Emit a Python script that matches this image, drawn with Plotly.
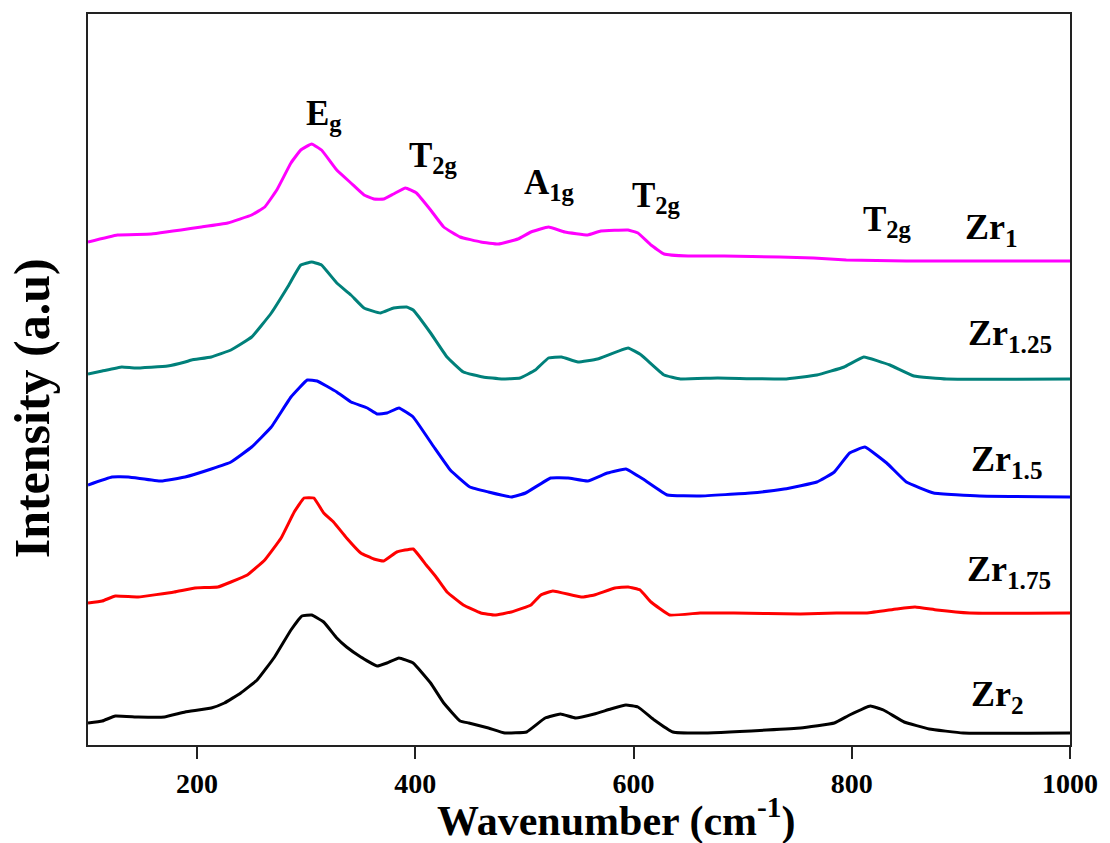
import plotly.graph_objects as go

# Raman spectra of the Zr-series samples, stacked vertically (arbitrary units)
wn_zr1 = [100, 127, 158, 204, 228, 250, 262, 273, 286, 295, 305, 314, 328, 341, 353, 362, 371, 380,
          391, 401, 414, 426, 441, 460, 476, 494, 506, 522, 537, 558, 570, 595, 604, 616, 628, 650,
          683, 734, 765, 795, 850, 900, 1000]
int_zr1 = [503, 510, 511, 518, 522, 530, 538, 555, 582, 595, 601, 595, 575, 562, 550, 546, 546, 551,
           557, 552, 535, 518, 508, 503, 501, 506, 513, 518, 513, 510, 514, 515, 512, 500, 491, 489,
           489, 488, 487, 485, 484, 484, 484]

wn_zr125 = [100, 113, 131, 143, 173, 189, 195, 213, 231, 250, 268, 283, 295, 305, 314, 328, 341, 353,
            368, 380, 392, 398, 414, 429, 444, 462, 479, 496, 510, 522, 534, 549, 567, 595, 607, 628,
            643, 677, 738, 768, 793, 811, 835, 857, 887, 1000]
int_zr125 = [371, 374, 378, 377, 379, 383, 385, 388, 395, 408, 432, 458, 480, 483, 480, 462, 450, 437,
             432, 437, 438, 435, 412, 388, 373, 368, 366, 367, 375, 387, 388, 383, 386, 397, 390, 370,
             366, 367, 366, 370, 378, 388, 380, 369, 366, 366]

wn_zr15 = [100, 122, 137, 167, 189, 213, 231, 250, 268, 286, 301, 310, 328, 341, 356, 365, 374, 385,
           398, 417, 432, 450, 467, 488, 501, 524, 540, 558, 576, 593, 610, 631, 661, 707, 738, 768,
           784, 798, 812, 832, 850, 875, 917, 1000]
int_zr15 = [260, 268, 268, 264, 268, 276, 283, 298, 318, 348, 365, 364, 353, 343, 337, 331, 332, 337,
            328, 298, 275, 258, 253, 248, 252, 267, 267, 264, 272, 276, 265, 250, 249, 252, 256, 263,
            273, 292, 298, 282, 263, 252, 249, 248]

wn_zr175 = [100, 113, 125, 146, 179, 198, 219, 231, 246, 262, 277, 289, 298, 307, 316, 325, 337, 350,
            362, 371, 383, 398, 410, 419, 429, 444, 460, 473, 488, 506, 515, 526, 552, 564, 583, 595,
            606, 616, 633, 661, 692, 753, 786, 814, 841, 858, 878, 908, 1000]
int_zr175 = [142, 144, 149, 148, 153, 157, 158, 163, 170, 185, 207, 233, 247, 247, 232, 223, 207, 192,
             186, 184, 193, 196, 180, 168, 153, 140, 132, 130, 133, 140, 150, 154, 148, 150, 157, 158,
             155, 143, 130, 132, 132, 131, 132, 132, 136, 138, 135, 132, 132]

wn_zr2 = [100, 113, 125, 146, 170, 189, 213, 225, 240, 255, 271, 286, 296, 305, 316, 328, 337, 350,
          365, 374, 385, 398, 414, 426, 441, 449, 467, 482, 502, 519, 533, 547, 564, 579, 593, 604,
          619, 636, 661, 722, 753, 784, 798, 817, 829, 848, 871, 902, 1000]
int_zr2 = [22, 24, 29, 28, 28, 33, 37, 42, 52, 65, 88, 115, 129, 130, 123, 107, 98, 88,
           79, 82, 87, 82, 62, 42, 24, 22, 17, 12, 13, 27, 31, 27, 31, 36, 40, 38,
           25, 13, 12, 15, 17, 22, 30, 39, 35, 23, 16, 12, 12]

series = [
    ("Zr<sub>1</sub>", wn_zr1, int_zr1, "#FF00FF"),
    ("Zr<sub>1.25</sub>", wn_zr125, int_zr125, "#00807A"),
    ("Zr<sub>1.5</sub>", wn_zr15, int_zr15, "#0000FF"),
    ("Zr<sub>1.75</sub>", wn_zr175, int_zr175, "#FF0000"),
    ("Zr<sub>2</sub>", wn_zr2, int_zr2, "#000000"),
]

# Band assignments: (label, wavenumber of left edge, intensity at top)
band_labels = ["E<sub>g</sub>", "T<sub>2g</sub>", "A<sub>1g</sub>", "T<sub>2g</sub>", "T<sub>2g</sub>"]
band_x = [298, 392, 498, 597, 808]
band_y = [653, 611, 584, 571, 547]

# Sample labels placed to the right of each spectrum
sample_x = [902, 905, 907, 904, 907]
sample_y = [540, 434, 308, 198, 73]

font_family = "Liberation Serif, Times New Roman, serif"

fig = go.Figure()
for name, x, y, color in series:
    fig.add_trace(go.Scatter(
        x=x, y=y, mode="lines", name=name,
        line=dict(color=color, width=3, shape="spline", smoothing=0.3),
        showlegend=False,
    ))

for text, x, y in zip(band_labels, band_x, band_y):
    fig.add_annotation(x=x, y=y, text=f"<b>{text}</b>", showarrow=False,
                       xanchor="left", yanchor="top",
                       font=dict(family=font_family, size=35, color="black"))

for (name, _, _, _), x, y in zip(series, sample_x, sample_y):
    fig.add_annotation(x=x, y=y, text=f"<b>{name}</b>", showarrow=False,
                       xanchor="left", yanchor="top",
                       font=dict(family=font_family, size=36, color="black"))

# Axis titles
fig.add_annotation(xref="paper", yref="paper", x=0.538, y=-0.1395,
                   text="<b>Wavenumber (cm<sup>-1</sup>)</b>", showarrow=False,
                   xanchor="center", yanchor="bottom",
                   font=dict(family=font_family, size=42, color="black"))
fig.add_annotation(xref="paper", yref="paper", x=-0.088, y=0.46,
                   text="<b>Intensity (a.u)</b>", showarrow=False, textangle=-90,
                   xanchor="left", yanchor="middle",
                   font=dict(family=font_family, size=50, color="black"))

fig.update_layout(
    width=1110, height=843,
    margin=dict(l=88, r=35, t=14, b=98),
    paper_bgcolor="white", plot_bgcolor="white",
    font=dict(family=font_family, color="black"),
    xaxis=dict(
        range=[100, 1000], tickvals=[200, 400, 600, 800, 1000],
        showgrid=False, zeroline=False,
        showline=True, linecolor="#222222", linewidth=2, mirror=True,
        ticks="outside", ticklen=12, tickwidth=2, tickcolor="#222222",
        tickfont=dict(family=font_family, size=28, color="black", weight="bold"),
    ),
    yaxis=dict(
        range=[0, 731], showticklabels=False, ticks="",
        showgrid=False, zeroline=False,
        showline=True, linecolor="#222222", linewidth=2, mirror=True,
    ),
)

fig.write_html("out.html")
